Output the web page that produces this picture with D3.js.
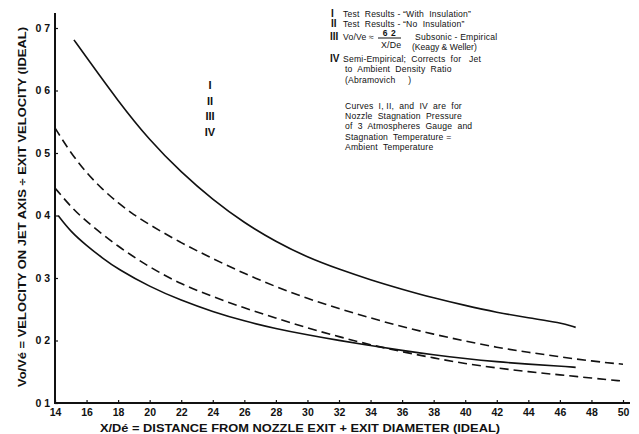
<!DOCTYPE html>
<html><head><meta charset="utf-8">
<script src="https://cdn.jsdelivr.net/npm/d3@7"></script>
<style>body{margin:0;background:#fff}svg{display:block}text{fill:#111;font-family:"Liberation Sans",Arial,sans-serif}.lg text{white-space:pre}</style>
</head><body><svg id="c" width="639" height="434"></svg>
<script>
// Data
const xTicks = [14,16,18,20,22,24,26,28,30,32,34,36,38,40,42,44,46,48,50];
const yTicks = [0.1,0.2,0.3,0.4,0.5,0.6,0.7];
const yTickLabels = ["0 1","0 2","0 3","0 4","0 5","0 6","0 7"];
const curveI_x   = [15.2,16,18,20,22,24,26,28,30,32,34,36,38,40,42,44,46,47];
const curveI_y   = [0.681,0.653,0.583,0.520,0.469,0.425,0.388,0.358,0.333,0.314,0.297,0.282,0.268,0.256,0.245,0.236,0.229,0.221];
const curveII_x  = [14,15,16,17,18,19,20,22,24,26,28,30,32,34,36,38,40,42,44,46,48,50];
const curveII_y  = [0.540,0.500,0.468,0.442,0.420,0.401,0.385,0.356,0.331,0.307,0.286,0.267,0.251,0.236,0.222,0.210,0.199,0.189,0.181,0.174,0.167,0.162];
const curveIII_x = [14,15,16,18,20,22,24,26,28,30,32,34,36,38,40,42,44,46,48,50];
const curveIII_y = [0.444,0.414,0.390,0.350,0.317,0.290,0.270,0.252,0.236,0.220,0.206,0.193,0.182,0.172,0.163,0.156,0.150,0.145,0.140,0.135];
const curveIV_x  = [14.2,15,16,17,18,20,22,24,26,28,30,32,34,36,38,40,42,44,46,47];
const curveIV_y  = [0.400,0.374,0.352,0.332,0.314,0.286,0.264,0.246,0.231,0.219,0.209,0.200,0.192,0.184,0.177,0.171,0.166,0.162,0.159,0.157];
const numerals = ["I","II","III","IV"];
const legendLines = [
  {num:"I", text:"Test  Results - \u201CWith  Insulation\u201D"},
  {num:"II", text:"Test  Results - \u201CNo  Insulation\u201D"}
];
const noteIV = ["Semi-Empirical;  Corrects  for   Jet","to  Ambient  Density  Ratio","(Abramovich     )"];
const noteCurves = ["Curves  I, II,  and  IV  are  for","Nozzle  Stagnation  Pressure","of  3  Atmospheres  Gauge  and","Stagnation  Temperature =","Ambient  Temperature"];

const svg = d3.select("#c");
const x = d3.scaleLinear().domain([14,50]).range([55,623]);
const y = d3.scaleLinear().domain([0.1,0.7]).range([403,28]);
const ink = "#111";

// axes
const xAxis = d3.axisBottom(x).tickValues(xTicks).tickSize(-3).tickFormat(d3.format("d"));
const gx = svg.append("g").attr("transform","translate(0,403)").call(xAxis);
gx.select(".domain").attr("d","M55,0H630").attr("stroke",ink).attr("stroke-width",2);
gx.selectAll(".tick line").attr("stroke",ink).attr("stroke-width",1.2);
gx.selectAll(".tick text").attr("y",6).attr("font-size",10.5).attr("font-weight","bold").attr("fill",ink);

const yAxis = d3.axisLeft(y).tickValues(yTicks).tickSize(-3).tickFormat((d,i)=>yTickLabels[i]);
const gy = svg.append("g").attr("transform","translate(55,0)").call(yAxis);
gy.select(".domain").attr("d","M0,13V404").attr("stroke",ink).attr("stroke-width",2);
gy.selectAll(".tick line").attr("stroke",ink).attr("stroke-width",1.2);
gy.selectAll(".tick text").attr("x",-5).attr("font-size",10.5).attr("font-weight","bold").attr("fill",ink);

// curves
const line = d3.line().x(d=>x(d[0])).y(d=>y(d[1])).curve(d3.curveBasis);
const series = [
  {xs:curveI_x, ys:curveI_y, dash:null},
  {xs:curveII_x, ys:curveII_y, dash:"9,5"},
  {xs:curveIII_x, ys:curveIII_y, dash:"9,5"},
  {xs:curveIV_x, ys:curveIV_y, dash:null}
];
series.forEach(s=>{
  svg.append("path").datum(d3.zip(s.xs,s.ys)).attr("d",line)
    .attr("fill","none").attr("stroke",ink).attr("stroke-width",1.6)
    .attr("stroke-dasharray",s.dash);
});

// roman numerals near curves
numerals.forEach((n,i)=>{
  svg.append("text").attr("x",210).attr("y",89+i*15.5).attr("text-anchor","middle").attr("font-family","Liberation Serif")
    .attr("font-size",11).attr("font-weight","bold").text(n);
});

// legend block
const lg = svg.append("g").attr("class","lg").attr("font-size",8.6).attr("letter-spacing",0.2);
const numX = 331, txX = 343;
const rowY = [17,27];
const numeral = (t,xx,yy)=>lg.append("text").attr("x",xx).attr("y",yy).attr("font-family","Liberation Serif")
  .attr("font-weight","bold").attr("font-size",10).attr("letter-spacing",0).text(t);
legendLines.forEach((l,i)=>{
  numeral(l.num,numX,rowY[i]);
  lg.append("text").attr("x",txX).attr("y",rowY[i]).text(l.text);
});
numeral("III",numX-1,40);
lg.append("text").attr("x",txX).attr("y",40).text("Vo/Ve \u2248");
lg.append("text").attr("x",389.5).attr("y",36.3).attr("text-anchor","middle").attr("font-size",8.5).attr("font-weight","bold").attr("letter-spacing",0.5).text("6 2");
lg.append("line").attr("x1",378).attr("x2",401).attr("y1",38).attr("y2",38).attr("stroke",ink).attr("stroke-width",1);
lg.append("text").attr("x",381).attr("y",48).attr("font-size",8.8).text("X/De");
lg.append("text").attr("x",415).attr("y",40).text("Subsonic - Empirical");
lg.append("text").attr("x",412).attr("y",49.5).attr("letter-spacing",0).text("(Keagy & Weller)");
numeral("IV",numX-1,62);
noteIV.forEach((t,i)=>{
  lg.append("text").attr("x",i===0?txX:txX+2).attr("y",62+i*10.3).text(t);
});
noteCurves.forEach((t,i)=>{
  lg.append("text").attr("x",txX+2).attr("y",109+i*10.2).text(t);
});

// axis titles
svg.append("text").attr("transform","translate(26,207) rotate(-90)").attr("text-anchor","middle")
  .attr("font-size",10).attr("font-weight","bold").attr("textLength",360).attr("lengthAdjust","spacingAndGlyphs")
  .text("Vo/Vé = VELOCITY ON JET AXIS \u00F7 EXIT VELOCITY (IDEAL)");
svg.append("text").attr("x",300).attr("y",432).attr("text-anchor","middle")
  .attr("font-size",10.5).attr("font-weight","bold").attr("textLength",400).attr("lengthAdjust","spacingAndGlyphs")
  .text("X/Dé = DISTANCE FROM NOZZLE EXIT + EXIT DIAMETER (IDEAL)");
</script></body></html>
